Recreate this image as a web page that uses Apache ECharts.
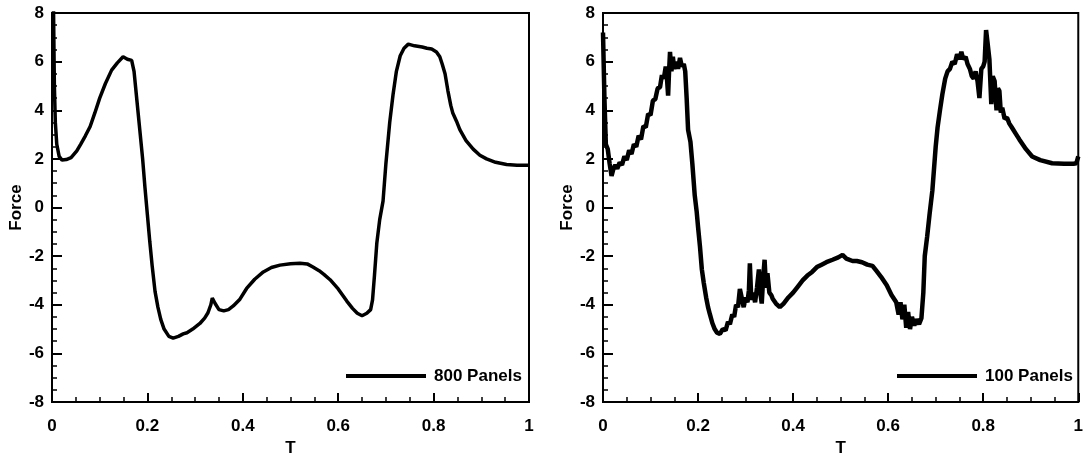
<!DOCTYPE html>
<html>
<head>
<meta charset="utf-8">
<script src="https://cdn.jsdelivr.net/npm/echarts@6/dist/echarts.min.js"></script>
<style>
  html, body { margin: 0; padding: 0; background: #fff; }
  #chart { width: 1086px; height: 462px; }
</style>
</head>
<body>
<div id="chart"></div>
<script>
// force history
var leftName = '800 Panels';
var leftT = [0.000, 0.003, 0.005, 0.007, 0.010, 0.015, 0.021, 0.030, 0.040, 0.052, 0.060, 0.070, 0.080, 0.090, 0.100, 0.112, 0.125, 0.137, 0.149, 0.158, 0.167, 0.172, 0.178, 0.184, 0.190, 0.195, 0.200, 0.205, 0.210, 0.216, 0.222, 0.228, 0.235, 0.245, 0.254, 0.265, 0.275, 0.283, 0.295, 0.310, 0.320, 0.327, 0.333, 0.336, 0.342, 0.350, 0.360, 0.370, 0.380, 0.394, 0.408, 0.425, 0.443, 0.460, 0.478, 0.500, 0.520, 0.535, 0.547, 0.560, 0.570, 0.583, 0.600, 0.618, 0.630, 0.640, 0.650, 0.660, 0.668, 0.672, 0.676, 0.681, 0.687, 0.694, 0.700, 0.708, 0.715, 0.722, 0.730, 0.738, 0.747, 0.760, 0.776, 0.786, 0.796, 0.806, 0.813, 0.818, 0.824, 0.830, 0.836, 0.840, 0.848, 0.855, 0.868, 0.883, 0.897, 0.911, 0.930, 0.953, 0.975, 1.000];
var leftForce = [12, 8.5, 5, 3.5, 2.6, 2.1, 1.95, 1.97, 2.05, 2.33, 2.6, 2.95, 3.33, 3.9, 4.5, 5.1, 5.65, 5.95, 6.2, 6.1, 6.05, 5.6, 4.4, 3.2, 2.0, 0.8, -0.3, -1.4, -2.4, -3.45, -4.1, -4.6, -5.0, -5.3, -5.37, -5.3, -5.2, -5.15, -5.0, -4.77, -4.55, -4.33, -4.0, -3.73, -3.95, -4.2, -4.25, -4.2, -4.05, -3.77, -3.33, -2.95, -2.65, -2.47, -2.37, -2.31, -2.29, -2.32, -2.45, -2.6, -2.75, -2.97, -3.35, -3.85, -4.15, -4.35, -4.45, -4.35, -4.2, -3.8, -2.8, -1.46, -0.5, 0.26, 1.8, 3.5, 4.65, 5.6, 6.24, 6.55, 6.72, 6.65, 6.6, 6.55, 6.52, 6.4, 6.2, 5.9, 5.5, 4.8, 4.2, 3.9, 3.55, 3.2, 2.75, 2.4, 2.15, 2.0, 1.86, 1.77, 1.74, 1.74];

var rightName = '100 Panels';
var rightT = [0.000, 0.003, 0.006, 0.010, 0.014, 0.018, 0.022, 0.026, 0.030, 0.035, 0.040, 0.045, 0.050, 0.055, 0.060, 0.065, 0.070, 0.075, 0.080, 0.085, 0.090, 0.095, 0.100, 0.105, 0.110, 0.115, 0.120, 0.124, 0.128, 0.132, 0.135, 0.137, 0.139, 0.141, 0.144, 0.147, 0.150, 0.155, 0.158, 0.162, 0.166, 0.170, 0.173, 0.176, 0.179, 0.184, 0.188, 0.193, 0.197, 0.200, 0.204, 0.208, 0.212, 0.217, 0.221, 0.225, 0.230, 0.235, 0.240, 0.246, 0.252, 0.258, 0.263, 0.267, 0.272, 0.276, 0.280, 0.284, 0.288, 0.292, 0.296, 0.300, 0.304, 0.307, 0.309, 0.312, 0.316, 0.320, 0.324, 0.328, 0.331, 0.334, 0.337, 0.340, 0.343, 0.346, 0.350, 0.354, 0.357, 0.364, 0.372, 0.380, 0.390, 0.400, 0.410, 0.420, 0.430, 0.440, 0.450, 0.460, 0.470, 0.483, 0.495, 0.504, 0.512, 0.525, 0.534, 0.545, 0.556, 0.567, 0.575, 0.585, 0.597, 0.607, 0.617, 0.622, 0.626, 0.630, 0.634, 0.638, 0.642, 0.646, 0.650, 0.655, 0.660, 0.665, 0.670, 0.674, 0.677, 0.682, 0.687, 0.693, 0.700, 0.704, 0.709, 0.714, 0.720, 0.725, 0.730, 0.735, 0.740, 0.745, 0.750, 0.754, 0.758, 0.763, 0.767, 0.772, 0.776, 0.780, 0.784, 0.788, 0.792, 0.796, 0.800, 0.803, 0.806, 0.809, 0.813, 0.817, 0.820, 0.824, 0.828, 0.831, 0.834, 0.837, 0.840, 0.845, 0.850, 0.855, 0.860, 0.868, 0.876, 0.890, 0.903, 0.920, 0.945, 0.970, 0.990, 0.996, 1.000];
var rightForce = [7.2, 4.5, 2.6, 2.4, 1.8, 1.3, 1.6, 1.75, 1.6, 1.85, 1.75, 2.1, 1.95, 2.35, 2.2, 2.6, 2.5, 2.95, 2.8, 3.35, 3.3, 3.85, 3.8, 4.4, 4.45, 4.9, 4.95, 5.45, 5.3, 5.8, 5.2, 4.6, 5.6, 6.4, 5.6, 6.2, 5.7, 6.0, 5.7, 6.15, 5.8, 5.9, 5.6, 4.5, 3.2, 2.7, 1.8, 0.5, -0.15, -0.8, -1.6, -2.55, -3.1, -3.7, -4.1, -4.4, -4.75, -5.0, -5.15, -5.2, -5.0, -5.05, -4.7, -4.8, -4.4, -4.5, -4.0, -4.1, -3.35, -3.4, -4.1, -3.7, -3.9, -3.4, -2.3, -3.8, -3.5, -3.9, -3.3, -2.55, -3.5, -3.95, -2.9, -2.15, -3.3, -2.7, -3.5, -3.6, -3.75, -3.95, -4.1, -3.95, -3.7, -3.5, -3.25, -3.0, -2.8, -2.65, -2.45, -2.35, -2.25, -2.15, -2.05, -1.95, -2.1, -2.2, -2.2, -2.25, -2.35, -2.4, -2.6, -2.85, -3.2, -3.6, -3.9, -4.4, -3.9, -4.6, -4.0, -4.95, -4.3, -5.0, -4.5, -4.85, -4.6, -4.8, -4.55, -3.5, -2.0, -1.2, -0.3, 0.7, 2.5, 3.3, 4.0, 4.65, 5.3, 5.6, 5.7, 6.0, 5.9, 6.3, 6.1, 6.4, 6.1, 6.2, 5.9, 5.7, 5.4, 5.3, 5.6, 5.2, 4.5, 5.7, 5.8, 6.0, 7.3, 6.8, 6.1, 4.25, 5.4, 5.2, 4.0, 4.9, 4.8, 3.9, 4.1, 3.65, 3.7, 3.45, 3.3, 3.05, 2.8, 2.4, 2.1, 1.95, 1.82, 1.8, 1.8, 1.82, 2.1];

var font = "'Liberation Sans', Arial, Helvetica, sans-serif";

function pairs(xs, ys) {
  return xs.map(function (x, i) { return [x, ys[i]]; });
}

function xAxisFor(i) {
  return {
    type: 'value', gridIndex: i, min: 0, max: 1, interval: 0.2,
    name: 'T', nameLocation: 'middle', nameGap: 38,
    nameTextStyle: { color: '#000', fontFamily: font, fontWeight: 'bold', fontSize: 17 },
    axisLine: { show: true, onZero: false, lineStyle: { color: '#000', width: 2 } },
    axisTick: { show: true, inside: true, length: 9, lineStyle: { color: '#000', width: 2 } },
    minorTick: { show: true, splitNumber: 4, length: 5, lineStyle: { color: '#000', width: 1.5 } },
    splitLine: { show: false },
    axisLabel: { color: '#000', fontFamily: font, fontWeight: 'bold', fontSize: 17, margin: 16 }
  };
}

function yAxisFor(i) {
  return {
    type: 'value', gridIndex: i, min: -8, max: 8, interval: 2,
    name: 'Force', nameLocation: 'middle', nameGap: 26,
    nameTextStyle: { color: '#000', fontFamily: font, fontWeight: 'bold', fontSize: 17 },
    axisLine: { show: true, onZero: false, lineStyle: { color: '#000', width: 2 } },
    axisTick: { show: true, inside: true, length: 10, lineStyle: { color: '#000', width: 2 } },
    minorTick: { show: true, splitNumber: 4, length: 5, lineStyle: { color: '#000', width: 1.5 } },
    splitLine: { show: false },
    axisLabel: { color: '#000', fontFamily: font, fontWeight: 'bold', fontSize: 17, margin: 8 }
  };
}

function legendFor(name, left) {
  return {
    data: [name], left: left, top: 366, padding: 0,
    icon: 'rect', itemWidth: 80, itemHeight: 4,
    selectedMode: false,
    textStyle: { color: '#000', fontFamily: font, fontWeight: 'bold', fontSize: 17, lineHeight: 20, padding: [0, 0, 0, 3] }
  };
}

var chart = echarts.init(document.getElementById('chart'), null, { renderer: 'canvas' });

var option = {
  backgroundColor: '#ffffff',
  animation: false,
  grid: [
    { left: 52, top: 13, width: 477, height: 401, show: true, borderColor: '#000', borderWidth: 2, backgroundColor: 'transparent' },
    { left: 603, top: 13, width: 476, height: 400, show: true, borderColor: '#000', borderWidth: 2, backgroundColor: 'transparent' }
  ],
  xAxis: [xAxisFor(0), xAxisFor(1)],
  yAxis: [yAxisFor(0), yAxisFor(1)],
  legend: [legendFor(leftName, 346), legendFor(rightName, 897)],
  series: [
    {
      name: leftName, type: 'line', xAxisIndex: 0, yAxisIndex: 0,
      data: pairs(leftT, leftForce),
      showSymbol: false, clip: true,
      lineStyle: { color: '#000', width: 3.5 }, itemStyle: { color: '#000' }
    },
    {
      name: rightName, type: 'line', xAxisIndex: 1, yAxisIndex: 1,
      data: pairs(rightT, rightForce),
      showSymbol: false, clip: true,
      lineStyle: { color: '#000', width: 4.5 }, itemStyle: { color: '#000' }
    }
  ]
};

chart.setOption(option);
</script>
</body>
</html>
